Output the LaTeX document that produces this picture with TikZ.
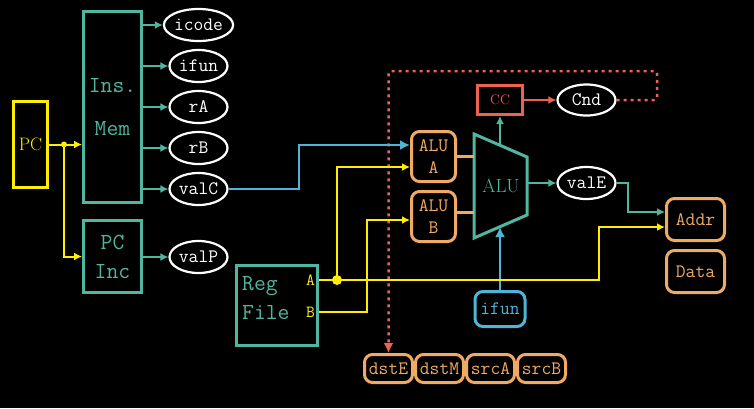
\documentclass[tikz,border=0pt]{standalone}
\usepackage{fontspec}
\usetikzlibrary{arrows.meta,shapes.geometric,positioning}
\definecolor{tealc}{RGB}{80,182,160}
\definecolor{yellowc}{RGB}{255,238,0}
\definecolor{orangec}{RGB}{240,170,100}
\definecolor{bluec}{RGB}{80,180,215}
\definecolor{redc}{RGB}{238,98,80}
\newcommand{\fsz}[2]{\fontsize{#1}{#2}\selectfont}

\begin{document}
\begin{tikzpicture} [x=1pt,y=-1pt,
  box/.style={draw,line width=3pt,inner sep=0pt},
  unit/.style={box,draw=tealc,text=tealc,font=\ttfamily\fsz{23}{29},align=center},
  val/.style={ellipse,draw=white,line width=2.2pt,text=white,inner sep=0pt,minimum width=58pt,minimum height=32pt,font=\ttfamily\fsz{19}{23}},
  pipe/.style={box,rounded corners=8pt,draw=orangec,text=orangec,font=\ttfamily\fsz{19}{22},align=center},
  wire/.style={line width=2pt},
  arr/.style={wire,-{Latex[length=8pt,width=8pt]}},
  bigarr/.style={line width=2.5pt,-{Latex[length=10pt,width=10pt]}}]
\fill[black] (0,0) rectangle (754,408);
\useasboundingbox (0,0) rectangle (754,408);
% fetch
\node[box,draw=yellowc,text=yellowc,font=\fsz{18}{22},minimum width=34pt,minimum height=86pt] (pc) at (30.5,144.5) {PC};
\node[unit,minimum width=58pt,minimum height=191pt,font=\ttfamily\fsz{23}{43}] (imem) at (112.5,107) {Ins.\\Mem};
\node[unit,minimum width=58pt,minimum height=72pt] (pcinc) at (112.5,256.5) {PC\\Inc};
\node[val] (icode) at (198.5,25) {icode};
\node[val] (ifun) at (198.5,66) {ifun};
\node[val] (rA) at (198.5,107) {rA};
\node[val] (rB) at (198.5,148) {rB};
\node[val] (valC) at (198.5,189) {valC};
\node[val] (valP) at (198.5,257) {valP};
\foreach \v in {icode,ifun,rA,rB,valC}
  \draw[arr,tealc] (imem.east |- \v) -- (\v);
\draw[arr,tealc] (pcinc.east |- valP) -- (valP);
\coordinate (pcfork) at (64,144.5);
\draw[arr,yellowc] (pc.east) -- (imem.west |- pc.east);
\draw[arr,yellowc] (pcfork) -- (pcfork |- pcinc) -- (pcinc.west);
\fill[yellowc] (pcfork) circle (3pt);
% decode
\node[box,draw=tealc,minimum width=81pt,minimum height=80pt] (rf) at (277,305.5) {};
\node[text=tealc,font=\ttfamily\fsz{23}{29},align=left,anchor=west,inner sep=0pt] (rfname) at (242,298.5) {Reg\\File};
\node[text=yellowc,font=\ttfamily\fsz{17}{20},inner sep=0pt] (rfA) at (310.5,280) {A};
\node[text=yellowc,font=\ttfamily\fsz{17}{20},inner sep=0pt] (rfB) at (310.5,312) {B};
% execute
\node[pipe,minimum width=44pt,minimum height=50pt] (aluA) at (433.5,156.5) {ALU\\A};
\node[pipe,minimum width=44pt,minimum height=50pt] (aluB) at (433.5,216.5) {ALU\\B};
\draw[tealc,line width=3pt,line join=miter] (474,134) -- (527,157) -- (527,215) -- (474,238) -- cycle;
\node[text=tealc,font=\fsz{19}{23}] (alu) at (501,186) {ALU};
\coordinate (aluinA) at (474,156);
\coordinate (aluinB) at (474,212);
\coordinate (aluout) at (527,183);
\coordinate (alutop) at (500,145);
\coordinate (alubot) at (500,227);
\draw[orangec,line width=3pt] (aluA.east |- aluinA) -- (aluinA);
\draw[orangec,line width=3pt] (aluB.east |- aluinB) -- (aluinB);
\node[box,draw=redc,text=redc,font=\fsz{14}{17},minimum width=45pt,minimum height=29pt] (cc) at (500,100) {CC};
\node[val,minimum height=31pt] (cnd) at (586.5,100) {Cnd};
\node[val] (valE) at (586.5,183) {valE};
\draw[arr,tealc] (alutop) -- (cc.south);
\draw[arr,redc] (cc) -- (cnd);
\draw[arr,tealc] (aluout) -- (valE);
\node[box,rounded corners=8pt,draw=bluec,text=bluec,font=\ttfamily\fsz{19}{22},minimum width=50pt,minimum height=35pt] (ifunE) at (500,309) {ifun};
\draw[bigarr,bluec] (ifunE.north) -- (alubot);
% memory
\node[pipe,minimum width=58pt,minimum height=42pt] (addr) at (695.5,219.5) {Addr};
\node[pipe,minimum width=58pt,minimum height=42pt] (data) at (695.5,271.5) {Data};
\draw[arr,tealc] (valE.east) -- ++(11,0) |- ([yshift=7.5pt]addr.west);
% write back
\node[pipe,minimum width=48pt,minimum height=28pt] (dstE) at (388.5,368.5) {dstE};
\node[pipe,minimum width=48pt,minimum height=28pt,right=0pt of dstE] (dstM) {dstM};
\node[pipe,minimum width=48pt,minimum height=28pt,right=0pt of dstM] (srcA) {srcA};
\node[pipe,minimum width=48pt,minimum height=28pt,right=0pt of srcA] (srcB) {srcB};
\draw[redc,line width=2.5pt,dash pattern=on 3pt off 4pt,rounded corners=3pt,-{Latex[length=10pt,width=10pt]}] (cnd.east) -- (657,100) -- (657,71) -- (dstE.north |- 0,71) -- (dstE.north);
% wires
\coordinate (afork) at (337,280);
\draw[arr,yellowc] (rf.east |- rfA) -- (599,280) |- ([yshift=-7.5pt]addr.west);
\draw[arr,yellowc] (afork) |- ([yshift=-10.5pt]aluA.west);
\draw[arr,yellowc] (rf.east |- rfB) -- (367,312) |- ([yshift=-3.5pt]aluB.west);
\fill[yellowc] (afork) circle (5pt);
\draw[bigarr,bluec] (valC.east) -- (299,189) |- ([yshift=11.5pt]aluA.west);

\end{tikzpicture}
\end{document}
